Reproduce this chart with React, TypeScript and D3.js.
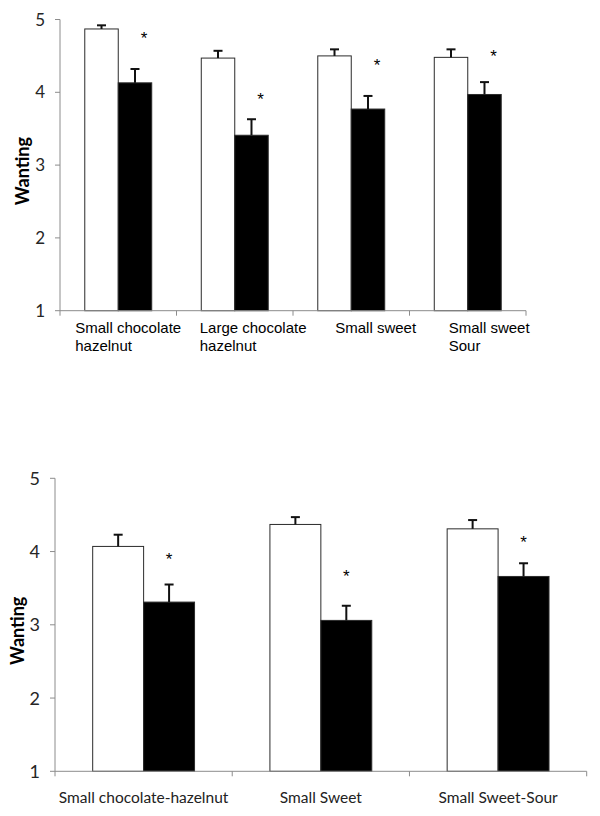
import React from "react";
import * as d3 from "d3";

// ---------- data ----------
const topCategories = ["Small chocolate hazelnut", "Large chocolate hazelnut", "Small sweet", "Small sweet Sour"];
const topLabelLines = [["Small chocolate", "hazelnut"], ["Large chocolate", "hazelnut"], ["Small sweet"], ["Small sweet", "Sour"]];
const topWhite = [4.87, 4.47, 4.5, 4.48];
const topWhiteErr = [0.05, 0.1, 0.09, 0.11];
const topBlack = [4.13, 3.41, 3.77, 3.97];
const topBlackErr = [0.19, 0.22, 0.18, 0.17];
const topStars = [4.79, 3.95, 4.42, 4.55];

const bottomCategories = ["Small chocolate-hazelnut", "Small Sweet", "Small Sweet-Sour"];
const bottomWhite = [4.07, 4.37, 4.31];
const bottomWhiteErr = [0.16, 0.1, 0.12];
const bottomBlack = [3.31, 3.06, 3.66];
const bottomBlackErr = [0.24, 0.2, 0.18];
const bottomStars = [3.95, 3.72, 4.18];

const yTicks = [1, 2, 3, 4, 5];
const yLabel = "Wanting";
const seriesKeys = ["white", "black"];

// ---------- layout ----------
const topLabelDx = [-43, -35, -16, -19];
const starDxTop = 9;
const starDxBottom = 0;

type PanelProps = {
  cats: string[];
  white: number[];
  whiteErr: number[];
  black: number[];
  blackErr: number[];
  stars: number[];
  x0: number;
  x1: number;
  yTop: number;
  yBot: number;
  starDx: number;
  tickFont: number;
  labelX: number;
};

function Panel(p: PanelProps) {
  const y = d3.scaleLinear().domain([1, 5]).range([p.yBot, p.yTop]);
  const x = d3.scaleBand<string>().domain(p.cats).range([p.x0, p.x1]).paddingInner(0).paddingOuter(0);
  const xs = d3.scaleBand<string>().domain(seriesKeys).range([0, x.bandwidth()]).paddingInner(0).paddingOuter(0.74);
  const bw = xs.bandwidth();
  const boundaries = p.cats.map((c) => x(c)!).concat([p.x1]);
  const bars: { key: string; x: number; v: number; e: number; fill: string }[] = [];
  p.cats.forEach((c, i) => {
    bars.push({ key: c + "w", x: x(c)! + xs("white")!, v: p.white[i], e: p.whiteErr[i], fill: "#ffffff" });
    bars.push({ key: c + "b", x: x(c)! + xs("black")!, v: p.black[i], e: p.blackErr[i], fill: "#000000" });
  });
  const yMid = (p.yTop + p.yBot) / 2;
  return (
    <g>
      {/* y axis */}
      <line x1={p.x0} x2={p.x0} y1={p.yTop} y2={p.yBot} stroke="#8c8c8c" strokeWidth={1} />
      {yTicks.map((t) => (
        <g key={t}>
          <line x1={p.x0 - 5} x2={p.x0} y1={y(t)} y2={y(t)} stroke="#8c8c8c" strokeWidth={1} />
          <text x={p.x0 - 15} y={y(t)} dy="0.36em" textAnchor="end" fontFamily="Lato, 'Open Sans', sans-serif" fontSize={p.tickFont} fill="#262626">
            {t}
          </text>
        </g>
      ))}
      <text
        transform={`translate(${p.labelX},${yMid + 6}) rotate(-90)`}
        textAnchor="middle"
        fontFamily="Lato, 'Open Sans', sans-serif"
        fontWeight="bold"
        fontSize={18}
        fill="#000"
      >
        {yLabel}
      </text>
      {/* bars */}
      {bars.map((b) => (
        <g key={b.key}>
          <rect x={b.x} y={y(b.v)} width={bw} height={y(1) - y(b.v)} fill={b.fill} stroke="#2b2b2b" strokeWidth={1} />
          <line x1={b.x + bw / 2} x2={b.x + bw / 2} y1={y(b.v)} y2={y(b.v + b.e)} stroke="#111" strokeWidth={2} />
          <line x1={b.x + bw / 2 - 4.5} x2={b.x + bw / 2 + 4.5} y1={y(b.v + b.e)} y2={y(b.v + b.e)} stroke="#111" strokeWidth={2} />
        </g>
      ))}
      {/* x axis */}
      <line x1={p.x0} x2={p.x1} y1={p.yBot} y2={p.yBot} stroke="#8c8c8c" strokeWidth={1} />
      {boundaries.map((bx, i) => (
        <line key={i} x1={bx} x2={bx} y1={p.yBot} y2={p.yBot + 5} stroke="#8c8c8c" strokeWidth={1} />
      ))}
      {/* stars */}
      {p.cats.map((c, i) => (
        <text
          key={c + "s"}
          x={x(c)! + xs("black")! + bw / 2 + p.starDx}
          y={y(p.stars[i]) + 9.5}
          textAnchor="middle"
          fontFamily="'Liberation Sans', Arial, sans-serif"
          fontSize={17}
          fill="#000"
        >
          *
        </text>
      ))}
    </g>
  );
}

export default function App() {
  const xTop = d3.scaleBand<string>().domain(topCategories).range([60, 526]);
  const xBot = d3.scaleBand<string>().domain(bottomCategories).range([55, 586.7]);
  return (
    <div style={{ position: "absolute", left: 0, top: 0, width: 600, height: 816, background: "#fff" }}>
      <svg width={600} height={816} viewBox="0 0 600 816" style={{ display: "block" }}>
        <rect x={0} y={0} width={600} height={816} fill="#fff" />
        <Panel
          cats={topCategories}
          white={topWhite}
          whiteErr={topWhiteErr}
          black={topBlack}
          blackErr={topBlackErr}
          stars={topStars}
          x0={60}
          x1={526}
          yTop={19.5}
          yBot={310.7}
          starDx={starDxTop}
          tickFont={17}
          labelX={29}
        />
        {topCategories.map((c, i) => (
          <text
            key={c}
            x={xTop(c)! + xTop.bandwidth() / 2 + topLabelDx[i]}
            y={333}
            fontFamily="'Liberation Sans', Arial, sans-serif"
            fontSize={15}
            fill="#000"
          >
            {topLabelLines[i].map((ln, j) => (
              <tspan key={j} x={xTop(c)! + xTop.bandwidth() / 2 + topLabelDx[i]} dy={j === 0 ? 0 : 17.5}>
                {ln}
              </tspan>
            ))}
          </text>
        ))}
        <Panel
          cats={bottomCategories}
          white={bottomWhite}
          whiteErr={bottomWhiteErr}
          black={bottomBlack}
          blackErr={bottomBlackErr}
          stars={bottomStars}
          x0={55}
          x1={586.7}
          yTop={478.3}
          yBot={771.3}
          starDx={starDxBottom}
          tickFont={18}
          labelX={24}
        />
        {bottomCategories.map((c) => (
          <text
            key={c}
            x={xBot(c)! + xBot.bandwidth() / 2}
            y={803}
            textAnchor="middle"
            fontFamily="Lato, 'Open Sans', sans-serif"
            fontSize={15.5}
            fill="#222"
          >
            {c}
          </text>
        ))}
      </svg>
    </div>
  );
}
